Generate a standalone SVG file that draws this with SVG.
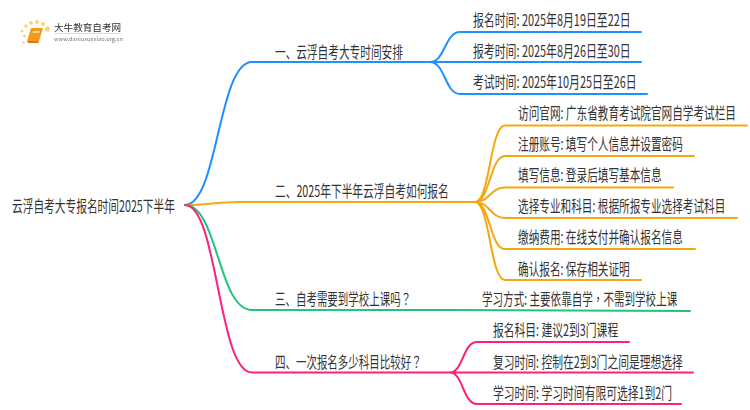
<svg xmlns="http://www.w3.org/2000/svg" width="750" height="410" viewBox="0 0 750 410">
<defs>
<style>
text{font-family:"Noto Sans CJK SC","Noto Sans",sans-serif;font-size:16px;fill:#333}
.tc{font-family:"Noto Sans CJK TC","Noto Sans",sans-serif}
.c{fill:none;stroke-width:2;stroke-linecap:round}
.b{stroke:#1e90ff}.o{stroke:#f5a70f}.g{stroke:#1fc47d}.p{stroke:#ff1f7d}
</style>
<filter id="s" x="-10%" y="-10%" width="120%" height="120%"><feGaussianBlur stdDeviation="0.5"/></filter>
</defs>
<rect width="750" height="410" fill="#fff"/>
<g id="logo" filter="url(#s)">
<g fill="#fbd27a"><circle cx="47.500" cy="29" r="2.500"/><circle cx="43" cy="24" r="2"/><circle cx="37" cy="22" r="2"/><circle cx="31" cy="23" r="2"/><circle cx="26" cy="26" r="1.800"/><circle cx="22" cy="31" r="1.500"/><circle cx="24.500" cy="36" r="1.500"/><circle cx="23.500" cy="42.500" r="1.200"/></g>
<path d="M31 28H43L39 41H27Z" fill="#f59a1b"/><path d="M27 41H39L38.500 43H28Z" fill="#e8760f"/><path d="M33 31H40L39.500 33H32.500Z" fill="#fcd98c"/>
<text transform="translate(54 31)" style="font-size:9.600px">大牛教育自考网</text>
<rect x="54" y="33" width="66" height="1" fill="#ddd"/>
<text x="54" y="41" style="font-size:5.500px;fill:#777" textLength="69" lengthAdjust="spacingAndGlyphs">www.daniuxuexiao.org.cn</text>
</g>
<g id="connectors">
<path class="c b" d="M185 205C218 205 218 62 252 62H430"/>
<path class="c b" d="M430 62C445 62 445 32 460 32H641M430 62H641M430 62C445 62 445 94 460 94H647"/>
<path class="c o" d="M185 205C205 205 220 202 240 202H475"/>
<path class="c o" d="M475 202C490 202 490 125.500 505 125.500H747M475 202C490 202 490 156 505 156H694M475 202C490 202 490 187.500 505 187.500H673M475 202C490 202 490 218 505 218H737M475 202C490 202 490 249 505 249H695M475 202C490 202 490 280 505 280H641"/>
<path class="c g" d="M185 205C218 205 218 310 252 310H450C500 310 550 311 690 311"/>
<path class="c p" d="M185 205C218 205 218 372.500 252 372.500H450"/>
<path class="c p" d="M450 372.500C463 372.500 463 342 477 342H629M450 372.500H693M450 372.500C463 372.500 463 404 477 404H681"/>
</g>
<g id="root"><text transform="translate(12 212) scale(.669 1)">云浮自考大专报名时间2025下半年</text></g>
<g id="n1"><text transform="translate(275 58) scale(.667 1)">一、云浮自考大专时间安排</text></g>
<g id="n1a"><text transform="translate(473 26) scale(.68 1)">报名时间: 2025年8月19日至22日</text></g>
<g id="n1b"><text transform="translate(473 57) scale(.68 1)">报考时间: 2025年8月26日至30日</text></g>
<g id="n1c"><text transform="translate(473 88) scale(.68 1)">考试时间: 2025年10月25日至26日</text></g>
<g id="n2"><text transform="translate(275 197) scale(.67 1)">二、2025年下半年云浮自考如何报名</text></g>
<g id="n2a"><text transform="translate(518 119) scale(.665 1)">访问官网: 广东省教育考试院官网自学考试栏目</text></g>
<g id="n2b"><text transform="translate(518 150) scale(.665 1)">注册账号: 填写个人信息并设置密码</text></g>
<g id="n2c"><text transform="translate(518 181) scale(.665 1)">填写信息: 登录后填写基本信息</text></g>
<g id="n2d"><text transform="translate(518 212) scale(.665 1)">选择专业和科目: 根据所报专业选择考试科目</text></g>
<g id="n2e"><text transform="translate(518 243) scale(.665 1)">缴纳费用: 在线支付并确认报名信息</text></g>
<g id="n2f"><text transform="translate(518 274.500) scale(.665 1)">确认报名: 保存相关证明</text></g>
<g id="n3"><text transform="translate(275 305) scale(.655 1)">三、自考需要到学校上课吗<tspan class="tc">？</tspan></text></g>
<g id="n3a"><text transform="translate(482 305) scale(.66 1)">学习方式: 主要依靠自学<tspan class="tc">，</tspan>不需到学校上课</text></g>
<g id="n4"><text transform="translate(275 368) scale(.655 1)">四、一次报名多少科目比较好<tspan class="tc">？</tspan></text></g>
<g id="n4a"><text transform="translate(493 336) scale(.675 1)">报名科目: 建议2到3门课程</text></g>
<g id="n4b"><text transform="translate(493 367.500) scale(.675 1)">复习时间: 控制在2到3门之间是理想选择</text></g>
<g id="n4c"><text transform="translate(493 399) scale(.675 1)">学习时间: 学习时间有限可选择1到2门</text></g>
</svg>
